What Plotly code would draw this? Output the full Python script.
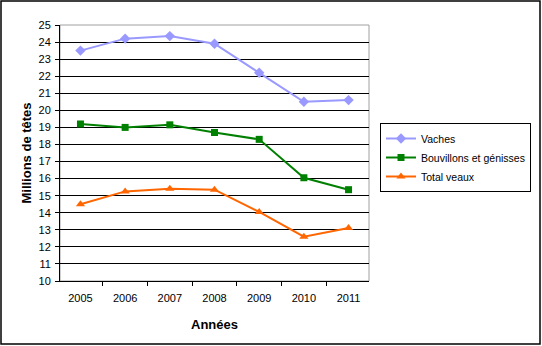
import plotly.graph_objects as go

years = ["2005", "2006", "2007", "2008", "2009", "2010", "2011"]
vaches = [23.5, 24.2, 24.35, 23.9, 22.2, 20.5, 20.6]
bouvillons = [19.2, 19.0, 19.15, 18.7, 18.3, 16.05, 15.35]
veaux = [14.5, 15.25, 15.4, 15.35, 14.05, 12.6, 13.1]
y_ticks = list(range(10, 26))

fig = go.Figure()
fig.add_trace(go.Scatter(x=years, y=vaches, name="Vaches", mode="lines+markers",
                         line=dict(color="#9999FF", width=2),
                         marker=dict(symbol="diamond", size=8, color="#9999FF")))
fig.add_trace(go.Scatter(x=years, y=bouvillons, name="Bouvillons et génisses", mode="lines+markers",
                         line=dict(color="#008000", width=2),
                         marker=dict(symbol="square", size=7, color="#008000")))
fig.add_trace(go.Scatter(x=years, y=veaux, name="Total veaux", mode="lines+markers",
                         line=dict(color="#FF6600", width=2),
                         marker=dict(symbol="triangle-up", size=8, color="#FF6600")))

L, R, T, B = 60, 173, 25, 65
W, H = 542, 346
pw, ph = W - L - R, H - T - B

fig.update_layout(
    width=W, height=H,
    margin=dict(l=L, r=R, t=T, b=B, autoexpand=False),
    paper_bgcolor="white", plot_bgcolor="white",
    font=dict(family="Liberation Sans, Arial, sans-serif", size=11, color="black"),
    showlegend=True,
    legend=dict(x=(380 - L) / pw, y=(H - B - 123) / ph, xanchor="left", yanchor="top",
                bordercolor="black", borderwidth=1, bgcolor="white",
                font=dict(size=10.5), tracegroupgap=0, itemwidth=30),
    xaxis=dict(type="category", tickson="boundaries", ticks="outside", ticklen=4,
               tickcolor="black", showline=True, linecolor="black", linewidth=1,
               showgrid=False, tickfont=dict(size=11), ticklabelstandoff=7,
               title=dict(text="<b>Années</b>", font=dict(size=13), standoff=16)),
    yaxis=dict(range=[10, 25], tickvals=y_ticks, ticks="outside", ticklen=4,
               tickcolor="black", showline=True, linecolor="black", linewidth=1,
               showgrid=True, gridcolor="black", gridwidth=1, zeroline=False,
               tickfont=dict(size=11), ticklabelstandoff=2,
               title=dict(text="<b>Millions de têtes</b>", font=dict(size=13), standoff=3)),
)

# plot area gray border (top/right)
fig.add_shape(type="rect", xref="paper", yref="paper", x0=0, x1=1, y0=0, y1=1,
              line=dict(color="#A0A0A0", width=1), layer="below")
# outer chart border
fig.add_shape(type="rect", xref="paper", yref="paper",
              x0=(1 - L) / pw, x1=(W - 2 - L) / pw,
              y0=(H - B - (H - 2)) / ph, y1=(H - B - 1) / ph,
              line=dict(color="black", width=1.5))

fig.write_html("out.html")
